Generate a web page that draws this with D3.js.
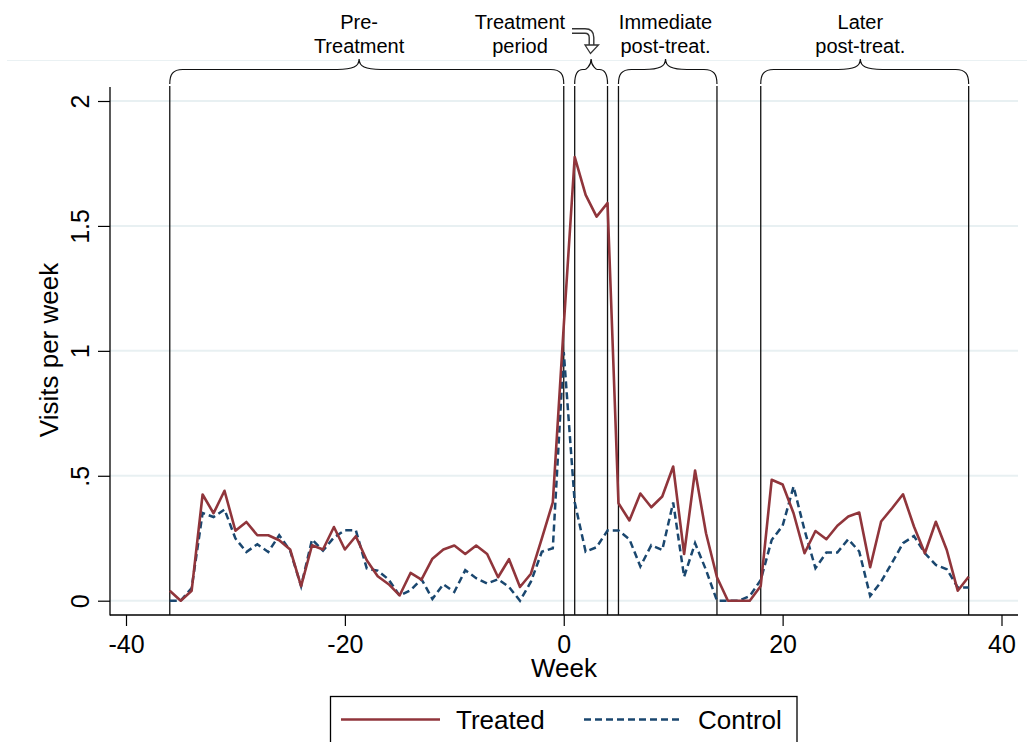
<!DOCTYPE html>
<html>
<head>
<meta charset="utf-8">
<script src="https://cdn.jsdelivr.net/npm/d3@7"></script>
<style>
  html, body { margin: 0; padding: 0; background: #fff; }
  svg { display: block; font-family: "Liberation Sans", Arial, sans-serif; }
</style>
</head>
<body>
<svg id="chart" width="1034" height="742"></svg>
<script>
// Weeks relative to treatment start
const weeks = [-36, -35, -34, -33, -32, -31, -30, -29, -28, -27, -26, -25, -24, -23, -22, -21, -20, -19,
  -18, -17, -16, -15, -14, -13, -12, -11, -10, -9, -8, -7, -6, -5, -4, -3, -2, -1,
  0, 1, 2, 3, 4, 5, 6, 7, 8, 9, 10, 11, 12, 13, 14, 15, 16, 17, 18,
  19, 20, 21, 22, 23, 24, 25, 26, 27, 28, 29, 30, 31, 32, 33, 34, 35, 36, 37];

const treated = [0.04, 0.0, 0.04, 0.425, 0.35, 0.44, 0.28, 0.315, 0.262, 0.262, 0.242, 0.205, 0.058, 0.222, 0.205, 0.295, 0.205, 0.258,
  0.162, 0.098, 0.066, 0.021, 0.111, 0.084, 0.168, 0.205, 0.221, 0.187, 0.221, 0.187, 0.094, 0.166, 0.055, 0.108, 0.249, 0.394,
  1.1, 1.776, 1.624, 1.537, 1.592, 0.39, 0.321, 0.429, 0.374, 0.417, 0.537, 0.187, 0.521, 0.27, 0.094, 0.0, 0.0, 0.0, 0.059,
  0.484, 0.465, 0.35, 0.19, 0.279, 0.246, 0.3, 0.337, 0.353, 0.134, 0.317, 0.37, 0.426, 0.297, 0.19, 0.316, 0.203, 0.04, 0.096];

const control = [0.0, 0.0, 0.051, 0.351, 0.335, 0.365, 0.249, 0.195, 0.226, 0.195, 0.262, 0.2, 0.058, 0.245, 0.2, 0.253, 0.282, 0.282,
  0.129, 0.12, 0.085, 0.02, 0.042, 0.086, 0.007, 0.066, 0.035, 0.122, 0.09, 0.069, 0.086, 0.055, 0.0, 0.076, 0.196, 0.21,
  0.995, 0.394, 0.196, 0.214, 0.281, 0.281, 0.246, 0.137, 0.222, 0.203, 0.393, 0.096, 0.23, 0.123, 0.0, 0.0, 0.0, 0.019, 0.083,
  0.243, 0.3, 0.457, 0.283, 0.13, 0.193, 0.193, 0.246, 0.197, 0.019, 0.076, 0.152, 0.23, 0.259, 0.19, 0.143, 0.126, 0.053, 0.053];

const xTicks = [-40, -20, 0, 20, 40];
const yTicks = [0, 0.5, 1, 1.5, 2];
const yTickLabels = ["0", ".5", "1", "1.5", "2"];

// Study periods (start week, end week) and their labels
const periodStart = [-36, 1, 5, 18];
const periodEnd = [0, 4, 14, 37];
const periodLabels = [["Pre-", "Treatment"], ["Treatment", "period"], ["Immediate", "post-treat."], ["Later", "post-treat."]];
const labelWeek = [-18.7, -4, 9.3, 27.1];
const braceWeek = [-18.7, 2.5, 9.3, 27.1];

const seriesNames = ["Treated", "Control"];
const seriesColors = ["#90353b", "#1a476f"];

const svg = d3.select("#chart");

const x = d3.scaleLinear().domain([-40, 40]).range([126, 1001.5]);
const y = d3.scaleLinear().domain([0, 2]).range([600.7, 101]);

const axisLeftX = 110, axisBottomY = 615, plotRight = 1018;

// faint outer frame line above the plot
svg.append("line")
  .attr("x1", 7).attr("x2", 1027).attr("y1", 60.5).attr("y2", 60.5)
  .attr("stroke", "#eaf1f3").attr("stroke-width", 1.2);

// grid lines
svg.append("g").selectAll("line")
  .data(yTicks)
  .join("line")
  .attr("x1", axisLeftX).attr("x2", plotRight)
  .attr("y1", d => y(d)).attr("y2", d => y(d))
  .attr("stroke", "#e8f0f2").attr("stroke-width", 2);

// y axis
const yAxis = svg.append("g")
  .attr("transform", `translate(${axisLeftX},0)`)
  .call(d3.axisLeft(y).tickValues(yTicks).tickFormat((d, i) => yTickLabels[i]).tickSize(12).tickSizeOuter(0));
yAxis.select(".domain").remove();
yAxis.selectAll(".tick line").attr("stroke", "#000").attr("stroke-width", 1.2);
yAxis.selectAll(".tick text")
  .attr("transform", "rotate(-90)")
  .attr("x", 0).attr("y", -21).attr("dy", 0)
  .attr("text-anchor", "middle")
  .attr("fill", "#000")
  .style("font-size", "25px")
  .style("font-family", '"Liberation Sans", Arial, sans-serif');

// x axis (plain hyphen for negatives, as in the original)
const xAxis = svg.append("g")
  .attr("transform", `translate(0,${axisBottomY})`)
  .call(d3.axisBottom(x).tickValues(xTicks).tickFormat(d => String(d)).tickSize(11).tickSizeOuter(0));
xAxis.select(".domain").remove();
xAxis.selectAll(".tick line").attr("stroke", "#000").attr("stroke-width", 1.2);
xAxis.selectAll(".tick text")
  .attr("y", 38).attr("dy", 0)
  .attr("fill", "#000")
  .style("font-size", "25px")
  .style("font-family", '"Liberation Sans", Arial, sans-serif');

// axis lines
svg.append("line")
  .attr("x1", axisLeftX).attr("x2", axisLeftX).attr("y1", 87).attr("y2", axisBottomY + 0.6)
  .attr("stroke", "#000").attr("stroke-width", 1.3);
svg.append("line")
  .attr("x1", axisLeftX).attr("x2", plotRight).attr("y1", axisBottomY).attr("y2", axisBottomY)
  .attr("stroke", "#000").attr("stroke-width", 1.3);

// axis titles
svg.append("text")
  .attr("x", 564).attr("y", 677)
  .attr("text-anchor", "middle")
  .style("font-size", "26px")
  .text("Week");
svg.append("text")
  .attr("transform", "translate(58,350) rotate(-90)")
  .attr("text-anchor", "middle")
  .style("font-size", "26px")
  .text("Visits per week");

// period boundary lines
const boundaries = Array.from(new Set(periodStart.concat(periodEnd)));
svg.append("g").selectAll("line")
  .data(boundaries)
  .join("line")
  .attr("x1", d => x(d)).attr("x2", d => x(d))
  .attr("y1", 86).attr("y2", axisBottomY)
  .attr("stroke", "#111").attr("stroke-width", 1.3);

// braces
function bracePath(x1, x2, xm) {
  const yb = 84, ya = 69.5, yp = 59;
  const r = Math.min(13, (xm - x1) / 2, (x2 - xm) / 2);
  const r2 = Math.min(22, (xm - x1) / 2 - 2, (x2 - xm) / 2 - 2);
  return `M${x1},${yb} C${x1},${ya + 5} ${x1 + 3},${ya} ${x1 + r},${ya}` +
    ` L${xm - r2},${ya} C${xm - 6},${ya} ${xm},${ya - 3} ${xm},${yp}` +
    ` C${xm},${ya - 3} ${xm + 6},${ya} ${xm + r2},${ya}` +
    ` L${x2 - r},${ya} C${x2 - 3},${ya} ${x2},${ya + 5} ${x2},${yb}`;
}
svg.append("g").selectAll("path")
  .data(periodStart)
  .join("path")
  .attr("d", (d, i) => bracePath(x(d), x(periodEnd[i]), x(braceWeek[i])))
  .attr("fill", "none").attr("stroke", "#111").attr("stroke-width", 1.2);

// period labels
const lbl = svg.append("g").selectAll("text")
  .data(periodLabels)
  .join("text")
  .attr("text-anchor", "middle")
  .style("font-size", "20px");
lbl.each(function (d, i) {
  d3.select(this).selectAll("tspan")
    .data(d)
    .join("tspan")
    .attr("x", x(labelWeek[i]))
    .attr("y", (t, j) => 29 + j * 24)
    .text(t => t);
});

// bent hollow arrow from "Treatment period" to its brace
const arrowPath = "M572,31 H585 Q591.5,31 591.5,37.5 V45";
svg.append("path").attr("d", arrowPath)
  .attr("fill", "none").attr("stroke", "#333").attr("stroke-width", 6);
svg.append("path").attr("d", arrowPath)
  .attr("fill", "none").attr("stroke", "#fff").attr("stroke-width", 3.2);
svg.append("path")
  .attr("d", "M585,45 L598.5,45 L590.5,53.5 Z")
  .attr("fill", "#fff").attr("stroke", "#333").attr("stroke-width", 1.3)
  .attr("stroke-linejoin", "miter");

// series
const line = d3.line()
  .x((d, i) => x(weeks[i]))
  .y(d => y(d));

svg.append("path")
  .datum(control)
  .attr("d", line)
  .attr("fill", "none")
  .attr("stroke", seriesColors[1]).attr("stroke-width", 2.5)
  .attr("stroke-dasharray", "7,4");

svg.append("path")
  .datum(treated)
  .attr("d", line)
  .attr("fill", "none")
  .attr("stroke", seriesColors[0]).attr("stroke-width", 2.6)
  .attr("stroke-linejoin", "round");

// legend
const legend = svg.append("g");
legend.append("rect")
  .attr("x", 330.5).attr("y", 696.5).attr("width", 466.5).attr("height", 70)
  .attr("fill", "#fff").attr("stroke", "#000").attr("stroke-width", 1.3);
const legendX = [341, 584];
const legendTextX = [456, 698];
seriesNames.forEach((name, i) => {
  legend.append("line")
    .attr("x1", legendX[i]).attr("x2", legendX[i] + 99)
    .attr("y1", 719.5).attr("y2", 719.5)
    .attr("stroke", seriesColors[i]).attr("stroke-width", 2.5)
    .attr("stroke-dasharray", i === 1 ? "7,4" : null);
  legend.append("text")
    .attr("x", legendTextX[i]).attr("y", 729)
    .style("font-size", "26px")
    .text(name);
});
</script>
</body>
</html>
